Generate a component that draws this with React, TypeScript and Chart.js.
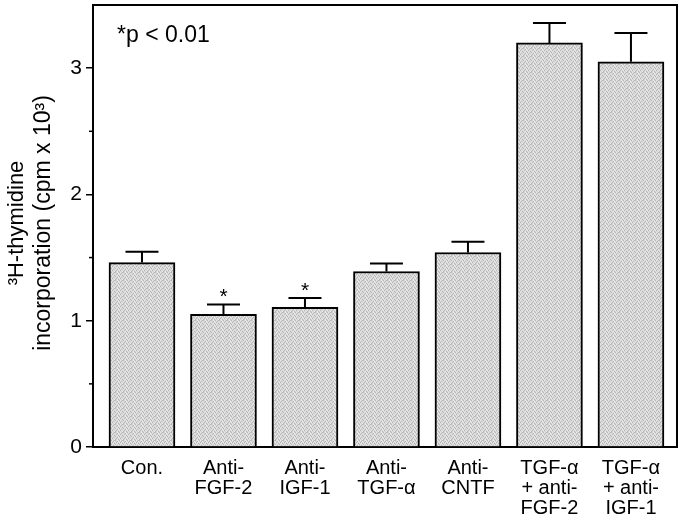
import React, { useEffect, useRef } from "react";
import { Chart, registerables } from "chart.js";

Chart.register(...registerables);

// ---- data ----
const categories: string[][] = [
  ["Con."],
  ["Anti-", "FGF-2"],
  ["Anti-", "IGF-1"],
  ["Anti-", "TGF-α"],
  ["Anti-", "CNTF"],
  ["TGF-α", "+ anti-", "FGF-2"],
  ["TGF-α", "+ anti-", "IGF-1"],
];
const meanValues = [1.46, 1.05, 1.105, 1.39, 1.54, 3.2, 3.05];
const errorTops = [1.546, 1.129, 1.179, 1.454, 1.626, 3.358, 3.278];
const significance = ["", "*", "*", "", "", "", ""];
const yMajorTicks = [0, 1, 2, 3];
const yMinorTicks = [0.5, 1.5, 2.5];
const yTitleLines = ["³H-thymidine", "incorporation (cpm x 10³)"];
const noteText = "*p < 0.01";

const FONT = "'Liberation Sans', Arial, Helvetica, sans-serif";

// fixed stipple texture (style only)
const STIPPLE = [
  "20110201",
  "01200120",
  "10021002",
  "02100210",
  "20012001",
  "01020120",
  "12001002",
  "00210210",
];

function makePattern(): CanvasPattern | string {
  const c = document.createElement("canvas");
  c.width = 8;
  c.height = 8;
  const ctx = c.getContext("2d");
  if (!ctx) return "#d2d2d2";
  const shades = ["#d6d6d6", "#b8b8b8", "#eaeaea"];
  STIPPLE.forEach((row, y) => {
    row.split("").forEach((ch, x) => {
      ctx.fillStyle = shades[Number(ch)];
      ctx.fillRect(x, y, 1, 1);
    });
  });
  const p = ctx.createPattern(c, "repeat");
  return p || "#d2d2d2";
}

const overlayPlugin = {
  id: "overlay",
  afterDatasetsDraw(chart: any) {
    const ctx = chart.ctx as CanvasRenderingContext2D;
    const xs = chart.scales.x;
    const ys = chart.scales.y;
    ctx.save();
    ctx.strokeStyle = "#000";
    ctx.lineWidth = 2;
    meanValues.forEach((v, i) => {
      const x = xs.getPixelForValue(i + 1);
      const y0 = ys.getPixelForValue(v);
      const y1 = ys.getPixelForValue(errorTops[i]);
      ctx.beginPath();
      ctx.moveTo(x, y0);
      ctx.lineTo(x, y1);
      ctx.moveTo(x - 16.5, y1);
      ctx.lineTo(x + 16.5, y1);
      ctx.stroke();
      if (significance[i]) {
        ctx.fillStyle = "#000";
        ctx.font = `21px ${FONT}`;
        ctx.textAlign = "center";
        ctx.textBaseline = "alphabetic";
        ctx.fillText(significance[i], x, y1 - 1);
      }
    });
    ctx.restore();
  },
  afterDraw(chart: any) {
    const ctx = chart.ctx as CanvasRenderingContext2D;
    const area = chart.chartArea;
    const ys = chart.scales.y;
    ctx.save();
    // frame top + right
    ctx.strokeStyle = "#000";
    ctx.lineWidth = 2;
    ctx.beginPath();
    ctx.moveTo(area.left, area.top);
    ctx.lineTo(area.right, area.top);
    ctx.lineTo(area.right, area.bottom);
    ctx.stroke();
    // minor ticks
    ctx.lineWidth = 1.5;
    yMinorTicks.forEach((v) => {
      const y = ys.getPixelForValue(v);
      ctx.beginPath();
      ctx.moveTo(area.left - 4, y);
      ctx.lineTo(area.left, y);
      ctx.stroke();
    });
    // note text
    ctx.fillStyle = "#000";
    ctx.font = `23px ${FONT}`;
    ctx.textAlign = "left";
    ctx.textBaseline = "alphabetic";
    ctx.fillText(noteText, 117, 42);
    // y title
    ctx.textAlign = "center";
    const cy = (area.top + area.bottom) / 2 - 3;
    const xPos = [23, 50];
    const sizes = [22, 23];
    yTitleLines.forEach((line, i) => {
      ctx.save();
      ctx.font = `${sizes[i]}px ${FONT}`;
      ctx.translate(xPos[i], cy);
      ctx.rotate(-Math.PI / 2);
      ctx.fillText(line, 0, 0);
      ctx.restore();
    });
    ctx.restore();
  },
};

export default function App() {
  const ref = useRef<HTMLCanvasElement | null>(null);
  useEffect(() => {
    if (!ref.current) return;
    const pattern = makePattern();
    const chart = new Chart(ref.current, {
      type: "bar",
      data: {
        datasets: [
          {
            data: meanValues.map((v, i) => ({ x: i + 1, y: v })),
            backgroundColor: pattern as any,
            borderColor: "#000",
            borderWidth: 2,
            barThickness: 66,
          },
        ],
      },
      options: {
        animation: false,
        responsive: false,
        devicePixelRatio: 1,
        layout: { padding: { top: 5, right: 7, left: 0, bottom: 0 } },
        plugins: {
          legend: { display: false },
          tooltip: { enabled: false },
        },
        scales: {
          x: {
            type: "linear",
            offset: false,
            min: 0.399,
            max: 7.565,
            afterBuildTicks: (scale: any) => {
              scale.ticks = categories.map((_, i) => ({ value: i + 1 }));
            },
            afterFit: (scale: any) => {
              scale.height = 76;
              scale.paddingLeft = 0;
              scale.paddingRight = 0;
            },
            grid: { display: false, offset: false },
            border: { display: true, color: "#000", width: 2 },
            ticks: {
              autoSkip: false,
              maxRotation: 0,
              minRotation: 0,
              padding: 3,
              color: "#000",
              font: { family: FONT, size: 20, lineHeight: 1.0 },
              callback: (v: any) => categories[Math.round(Number(v)) - 1] ?? "",
            },
          },
          y: {
            type: "linear",
            min: 0,
            max: 3.5,
            afterBuildTicks: (scale: any) => {
              scale.ticks = yMajorTicks.map((v) => ({ value: v }));
            },
            afterFit: (scale: any) => {
              scale.width = 93;
              scale.paddingTop = 0;
              scale.paddingBottom = 0;
            },
            grid: {
              display: true,
              drawOnChartArea: false,
              drawTicks: true,
              tickLength: 7,
              color: "#000",
              lineWidth: 1.5,
            },
            border: { display: true, color: "#000", width: 2 },
            ticks: {
              padding: 4,
              color: "#000",
              font: { family: FONT, size: 21 },
              callback: (v: any) => String(v),
            },
          },
        },
      },
      plugins: [overlayPlugin],
    });
    return () => chart.destroy();
  }, []);
  return (
    <div style={{ position: "fixed", left: 0, top: 0, width: 684, height: 523, background: "#fff" }}>
      <canvas ref={ref} width={684} height={523} style={{ display: "block" }} />
    </div>
  );
}
